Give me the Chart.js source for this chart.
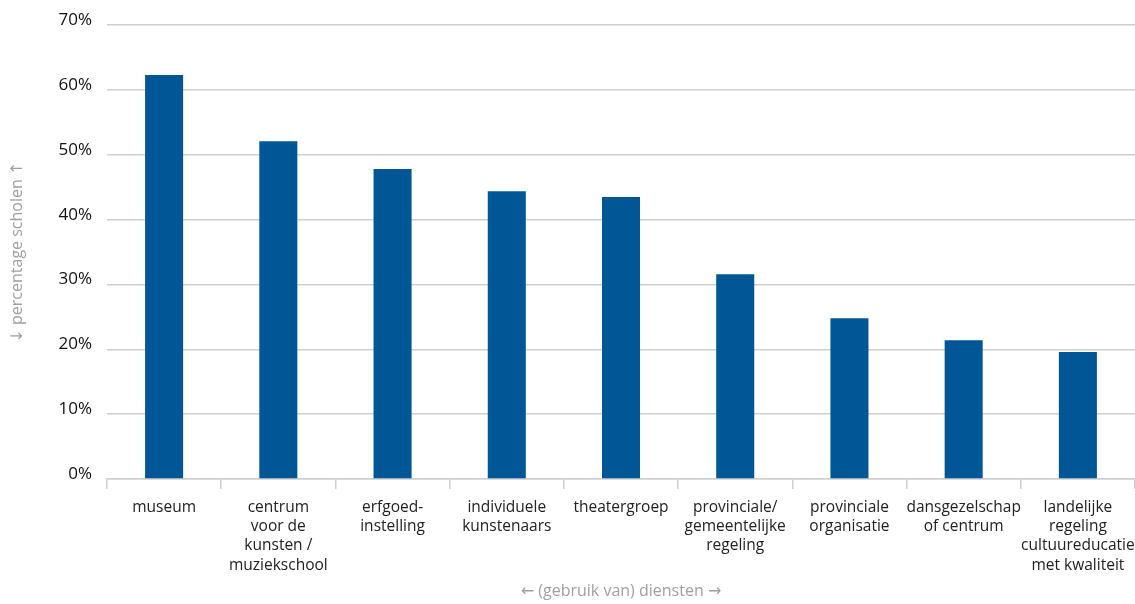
<!DOCTYPE html>
<html>
<head>
<meta charset="utf-8">
<script src="https://cdn.jsdelivr.net/npm/chart.js@4.4.1/dist/chart.umd.min.js"></script>
<style>
  html, body { margin: 0; padding: 0; background: #fff; }
  #wrap { width: 1135px; height: 604px; position: relative; }
</style>
</head>
<body>
<div id="wrap"><canvas id="c"></canvas></div>
<script>
const categories = [
  "museum",
  ["centrum", "voor de", "kunsten /", "muziekschool"],
  ["erfgoed-", "instelling"],
  ["individuele", "kunstenaars"],
  "theatergroep",
  ["provinciale/", "gemeentelijke", "regeling"],
  ["provinciale", "organisatie"],
  ["dansgezelschap", "of centrum"],
  ["landelijke", "regeling", "cultuureducatie", "met kwaliteit"]
];
const percentages = [62.3, 52.1, 47.8, 44.4, 43.5, 31.6, 24.8, 21.4, 19.6];
const yTicks = [0, 10, 20, 30, 40, 50, 60, 70];
const yTitle = "\u2193 percentage scholen \u2191";
const xTitle = "\u2190 (gebruik van) diensten \u2192";

const FONT = "'Open Sans', 'Noto Sans', sans-serif";
const TITLE_FONT = "'Open Sans', 'DejaVu Sans', sans-serif";

new Chart(document.getElementById('c'), {
  type: 'bar',
  data: {
    labels: categories,
    datasets: [{
      data: percentages,
      backgroundColor: '#015796',
      borderWidth: 0,
      categoryPercentage: 1,
      barPercentage: 0.333
    }]
  },
  options: {
    responsive: true,
    maintainAspectRatio: false,
    animation: false,
    devicePixelRatio: 1,
    layout: { padding: { top: 25, right: 0, bottom: 0, left: 0 } },
    plugins: {
      legend: { display: false },
      tooltip: { enabled: false }
    },
    scales: {
      x: {
        offset: true,
        grid: {
          offset: true,
          drawOnChartArea: false,
          drawTicks: true,
          tickLength: 10,
          color: '#cfcfcf',
          lineWidth: 1.5
        },
        border: { display: true, color: '#cfcfcf', width: 1.5 },
        ticks: {
          color: '#222',
          padding: 9,
          maxRotation: 0,
          autoSkip: false,
          font: { family: FONT, size: 15.5, lineHeight: 1.24 }
        },
        title: {
          display: true,
          text: xTitle,
          color: '#a0a0a0',
          font: { family: TITLE_FONT, size: 16, lineHeight: 1.2 },
          padding: { top: 7, bottom: 3 }
        },
        afterFit: s => { s.height = 125; s.paddingRight = 0; s.paddingLeft = 0; }
      },
      y: {
        min: 0,
        max: 70,
        afterBuildTicks: s => { s.ticks = yTicks.map(v => ({ value: v })); },
        grid: {
          drawTicks: false,
          color: '#cfcfcf',
          lineWidth: 1.5
        },
        border: { display: false },
        ticks: {
          color: '#111',
          padding: 15,
          labelOffset: -5,
          font: { family: FONT, size: 17 },
          callback: v => v + '%'
        },
        title: {
          display: true,
          text: yTitle,
          color: '#a0a0a0',
          font: { family: TITLE_FONT, size: 16, lineHeight: 1.2 },
          padding: { top: 8, bottom: 0 }
        },
        afterFit: s => { s.width = 107; }
      }
    }
  }
});
</script>
</body>
</html>
